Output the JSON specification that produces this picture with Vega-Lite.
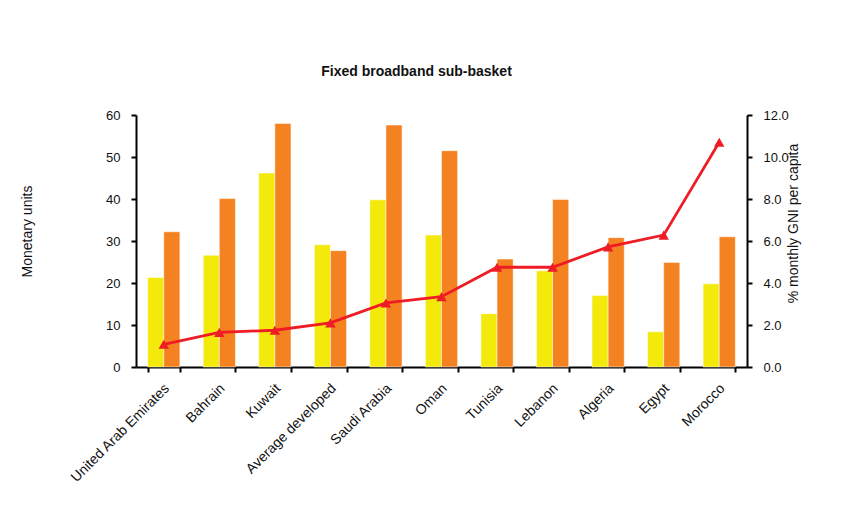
{
  "$schema": "https://vega.github.io/schema/vega-lite/v6.json",
  "width": 611,
  "height": 252,
  "autosize": {"type": "none"},
  "padding": {"left": 136, "top": 115, "right": 106, "bottom": 147},
  "background": "white",
  "config": {
    "view": {"stroke": null},
    "font": "Liberation Sans",
    "axis": {"labelFont": "Liberation Sans", "titleFont": "Liberation Sans", "labelColor": "#111", "titleColor": "#111", "labelFontSize": 13, "titleFontSize": 14, "titleFontWeight": "normal", "domainColor": "black", "domainWidth": 2, "tickColor": "black", "tickWidth": 2, "grid": false}
  },
  "title": {"text": "Fixed broadband sub-basket", "fontSize": 14, "fontWeight": "bold", "font": "Liberation Sans", "color": "#111", "anchor": "middle", "dx": -25, "offset": 30},
  "data": {"values": [
    {"country": "United Arab Emirates", "USD": 21.3, "PPP": 32.2, "gni": 1.08},
    {"country": "Bahrain", "USD": 26.6, "PPP": 40.1, "gni": 1.65},
    {"country": "Kuwait", "USD": 46.2, "PPP": 58.0, "gni": 1.75},
    {"country": "Average developed", "USD": 29.1, "PPP": 27.7, "gni": 2.1},
    {"country": "Saudi Arabia", "USD": 39.8, "PPP": 57.6, "gni": 3.05},
    {"country": "Oman", "USD": 31.4, "PPP": 51.5, "gni": 3.35},
    {"country": "Tunisia", "USD": 12.7, "PPP": 25.7, "gni": 4.75},
    {"country": "Lebanon", "USD": 22.9, "PPP": 39.9, "gni": 4.75},
    {"country": "Algeria", "USD": 17.0, "PPP": 30.8, "gni": 5.72},
    {"country": "Egypt", "USD": 8.4, "PPP": 24.9, "gni": 6.28},
    {"country": "Morocco", "USD": 19.8, "PPP": 31.0, "gni": 10.7}
  ]},
  "encoding": {
    "x": {"field": "country", "type": "nominal", "sort": null,
      "scale": {"paddingInner": 0.42, "paddingOuter": 0.21},
      "axis": {"title": null, "labelAngle": -45, "labelAlign": "right", "labelBaseline": "top", "labelFontSize": 14, "tickBand": "extent", "tickSize": 5, "labelPadding": 9, "labelOffset": -2}}
  },
  "layer": [
    {
      "transform": [{"fold": ["USD", "PPP"], "as": ["series", "value"]}],
      "mark": {"type": "bar", "stroke": "white", "strokeWidth": 0.5},
      "encoding": {
        "xOffset": {"field": "series", "type": "nominal", "sort": ["USD", "PPP"], "scale": {"paddingInner": 0, "paddingOuter": 0}},
        "y": {"field": "value", "type": "quantitative", "scale": {"domain": [0, 60], "nice": false},
          "axis": {"title": "Monetary units", "orient": "left", "values": [0, 10, 20, 30, 40, 50, 60], "labelOverlap": false, "tickSize": 5, "labelPadding": 11, "titlePadding": 71, "titleY": 116}},
        "color": {"field": "series", "type": "nominal", "sort": ["USD", "PPP"], "scale": {"domain": ["USD", "PPP"], "range": ["#F3EA0C", "#F58220"]}, "legend": null}
      }
    },
    {
      "mark": {"type": "line", "color": "#EE1C25", "strokeWidth": 2.8, "point": {"shape": "triangle-up", "size": 110, "filled": true, "color": "#EE1C25"}},
      "encoding": {
        "y": {"field": "gni", "type": "quantitative", "scale": {"domain": [0, 12], "nice": false},
          "axis": {"title": "% monthly GNI per capita", "orient": "right", "values": [0, 2, 4, 6, 8, 10, 12], "labelOverlap": false, "format": ".1f", "tickSize": 5, "labelPadding": 11, "titlePadding": 12, "titleAngle": 270, "titleY": 108}}
      }
    }
  ],
  "resolve": {"scale": {"y": "independent"}}
}
